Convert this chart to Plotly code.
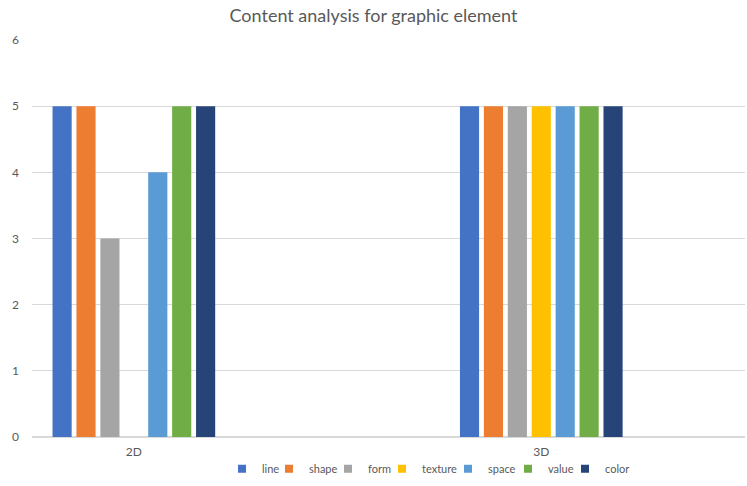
import plotly.graph_objects as go

categories = ["2D", "3D"]
series_names = ["line", "shape", "form", "texture", "space", "value", "color"]
line_vals = [5, 5]
shape_vals = [5, 5]
form_vals = [3, 5]
texture_vals = [0, 5]
space_vals = [4, 5]
value_vals = [5, 5]
color_vals = [5, 5]
y_ticks = [0, 1, 2, 3, 4, 5, 6]

series_values = [line_vals, shape_vals, form_vals, texture_vals, space_vals, value_vals, color_vals]
colors = ["#4472C4", "#ED7D31", "#A5A5A5", "#FFC000", "#5B9BD5", "#70AD47", "#264478"]
legend_left_px = [222, 269, 328, 382, 448, 508, 565]

fig = go.Figure()
for name, vals, c in zip(series_names, series_values, colors):
    fig.add_trace(go.Bar(x=categories, y=vals, name=name, marker=dict(color=c, line=dict(width=0)),
                         showlegend=False, legendgroup=name))

txt = "#595959"
legends = {}
for i, (name, c, px) in enumerate(zip(series_names, colors, legend_left_px)):
    key = "legend" if i == 0 else f"legend{i+1}"
    fig.add_trace(go.Scatter(x=[categories[0]], y=[None], mode="markers", name=name, legendgroup=name,
                             legend=key, marker=dict(symbol="square", size=8, color=c)))
    legends[key] = dict(x=(px - 32) / 713, xanchor="left",
                        y=-0.08, yanchor="middle", itemwidth=30,
                        font=dict(size=11, color=txt), bgcolor="rgba(0,0,0,0)")

fig.update_layout(
    width=747, height=486,
    margin=dict(l=32, r=2, t=40, b=49),
    paper_bgcolor="white", plot_bgcolor="white",
    font=dict(family="Lato", size=12, color=txt),
    title=dict(text="Content analysis for graphic element", x=0.5, xanchor="center",
               y=0.968, yanchor="middle", font=dict(family="Lato", size=18, color=txt)),
    barmode="group", bargap=0.589, bargroupgap=0.2,
    xaxis=dict(type="category", range=[-0.25, 1.5], showgrid=False, showline=False,
               ticks="", tickfont=dict(size=12, color=txt), ticklabelstandoff=6),
    yaxis=dict(range=[0, 6], tickvals=y_ticks, showgrid=True, gridcolor="#D9D9D9", gridwidth=1,
               zeroline=True, zerolinecolor="#D9D9D9", showline=False, ticks="",
               tickfont=dict(size=12, color=txt), ticklabelstandoff=12),
    **legends,
)
fig.write_html("out.html")
